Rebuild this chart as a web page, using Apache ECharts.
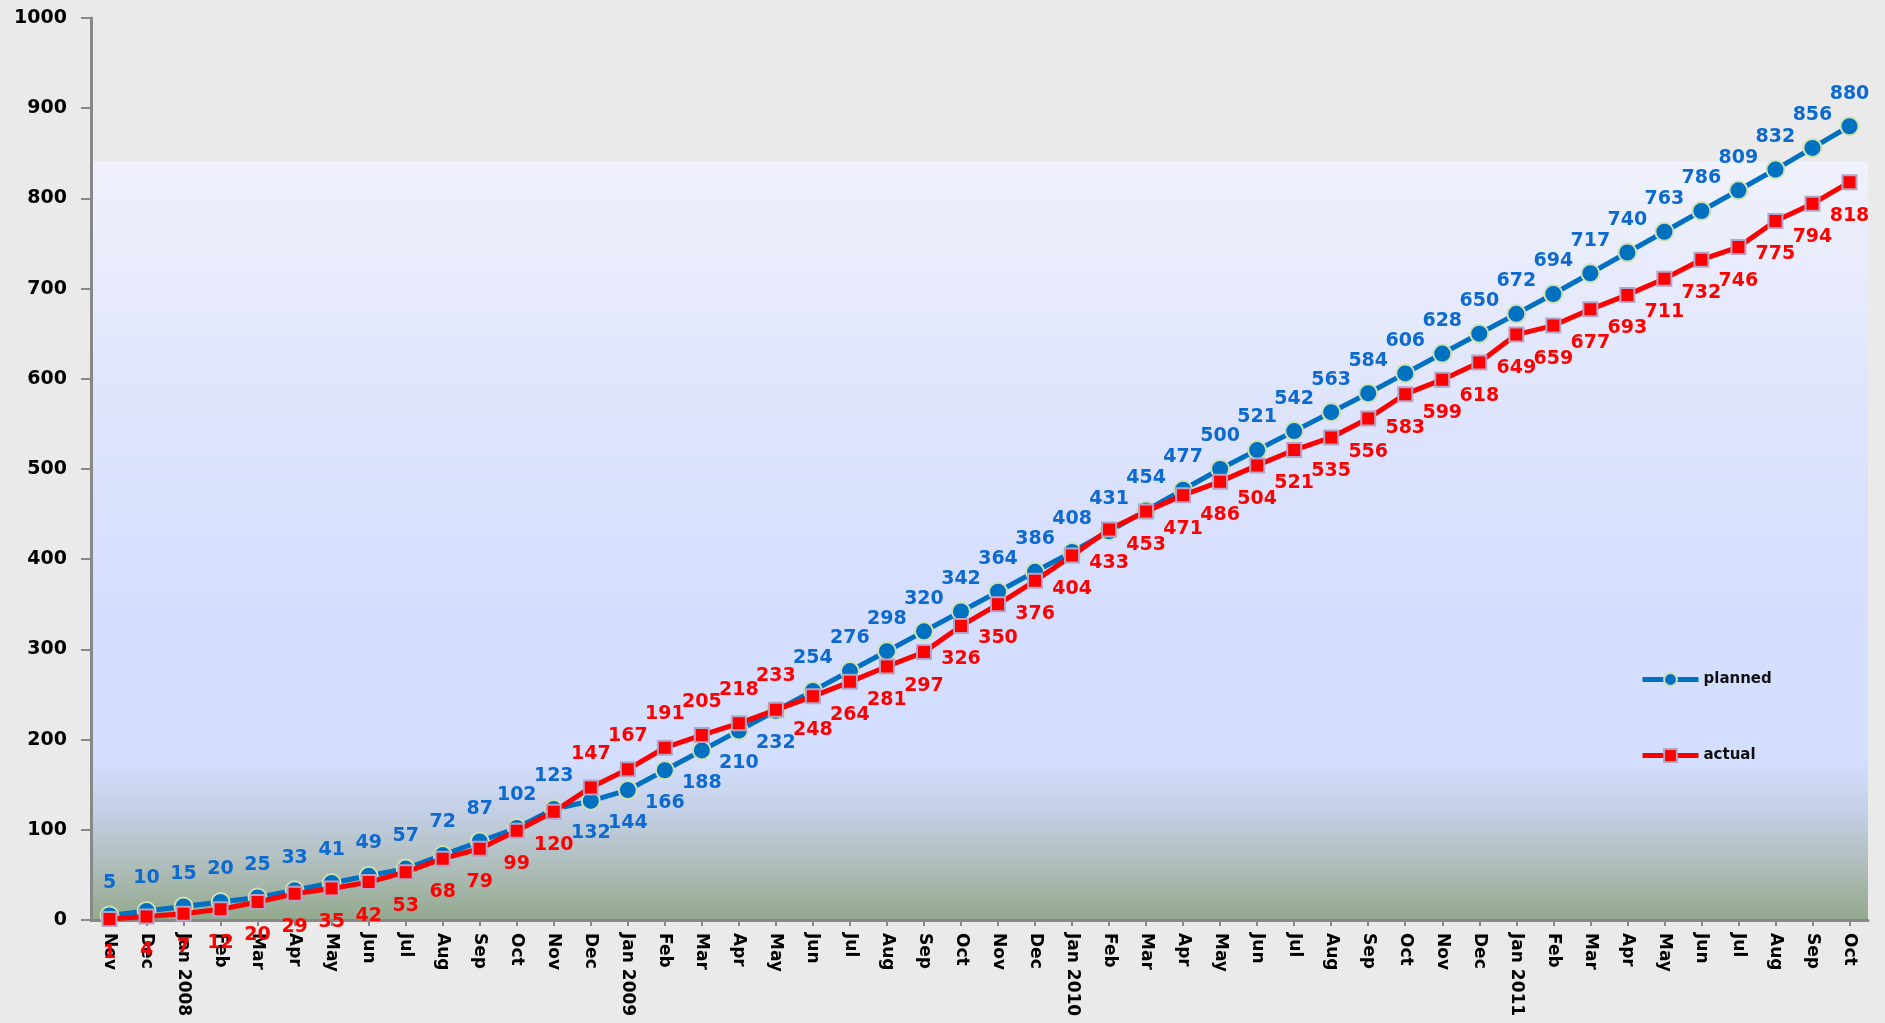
<!DOCTYPE html>
<html>
<head>
<meta charset="utf-8">
<style>
  html, body { margin: 0; padding: 0; background: #eaeaea; }
  #chart { width: 1885px; height: 1023px; }
</style>
<script src="https://cdn.jsdelivr.net/npm/echarts@6/dist/echarts.min.js"></script>
</head>
<body>
<div id="chart"></div>
<script>
// Monthly cumulative totals, Nov 2007 – Oct 2011
const categories = [
  'Nov', 'Dec',
  'Jan 2008', 'Feb', 'Mar', 'Apr', 'May', 'Jun', 'Jul', 'Aug', 'Sep', 'Oct', 'Nov', 'Dec',
  'Jan 2009', 'Feb', 'Mar', 'Apr', 'May', 'Jun', 'Jul', 'Aug', 'Sep', 'Oct', 'Nov', 'Dec',
  'Jan 2010', 'Feb', 'Mar', 'Apr', 'May', 'Jun', 'Jul', 'Aug', 'Sep', 'Oct', 'Nov', 'Dec',
  'Jan 2011', 'Feb', 'Mar', 'Apr', 'May', 'Jun', 'Jul', 'Aug', 'Sep', 'Oct'
];

const planned = [
  5, 10, 15, 20, 25, 33, 41, 49, 57, 72, 87, 102, 123, 132,
  144, 166, 188, 210, 232, 254, 276, 298, 320, 342, 364, 386,
  408, 431, 454, 477, 500, 521, 542, 563, 584, 606, 628, 650,
  672, 694, 717, 740, 763, 786, 809, 832, 856, 880
];

const actual = [
  1, 4, 7, 12, 20, 29, 35, 42, 53, 68, 79, 99, 120, 147,
  167, 191, 205, 218, 233, 248, 264, 281, 297, 326, 350, 376,
  404, 433, 453, 471, 486, 504, 521, 535, 556, 583, 599, 618,
  649, 659, 677, 693, 711, 732, 746, 775, 794, 818
];

const yTicks = { min: 0, max: 1000, interval: 100 };

// months where the actual curve runs above the plan: labels swap sides
const swapStart = 13, swapEnd = 18;

const BLUE = '#0070c0';
const BLUE_TEXT = '#0d6ad0';
const RED = '#ff0000';
const FONT = '"DejaVu Sans", sans-serif';

function withLabels(values, normalPos, swappedPos, dist) {
  return values.map((v, i) => {
    const swapped = i >= swapStart && i <= swapEnd;
    return { value: v, label: { position: swapped ? swappedPos : normalPos, distance: dist } };
  });
}

const chart = echarts.init(document.getElementById('chart'), null, { renderer: 'canvas' });

const gridLeft = 91, gridRight = 17, gridTop = 18, gridBottom = 103;

chart.setOption({
  backgroundColor: '#eaeaea',
  animation: false,
  grid: { left: gridLeft, right: gridRight, top: gridTop, bottom: gridBottom, containLabel: false },
  legend: {
    orient: 'vertical',
    left: 1640,
    top: 672,
    itemWidth: 56,
    itemHeight: 16,
    itemGap: 61,
    padding: 0,
    lineStyle: { width: 5 },
    textStyle: { fontFamily: FONT, fontWeight: 'bold', fontSize: 15, color: '#111' },
    data: ['planned', 'actual']
  },
  xAxis: {
    type: 'category',
    data: categories,
    boundaryGap: true,
    axisLine: { show: true, lineStyle: { color: '#888888', width: 3 } },
    axisTick: { show: true, alignWithLabel: true, length: 6, lineStyle: { color: '#888888', width: 2 } },
    axisLabel: {
      interval: 0,
      rotate: -90,
      margin: 13,
      fontFamily: FONT,
      fontWeight: 'bold',
      fontSize: 17,
      color: '#000'
    },
    splitLine: { show: false }
  },
  yAxis: {
    type: 'value',
    min: yTicks.min,
    max: yTicks.max,
    interval: yTicks.interval,
    axisLine: { show: true, lineStyle: { color: '#888888', width: 3 } },
    axisTick: { show: true, length: 10, lineStyle: { color: '#888888', width: 2 } },
    axisLabel: {
      margin: 24,
      fontFamily: FONT,
      fontWeight: 'bold',
      fontSize: 19,
      color: '#000',
      formatter: (v) => String(v)
    },
    splitLine: { show: false }
  },
  series: [
    {
      name: 'planned',
      type: 'line',
      data: withLabels(planned, 'top', 'bottom', 13),
      symbol: 'circle',
      symbolSize: 18,
      lineStyle: { color: BLUE, width: 5 },
      itemStyle: { color: BLUE, borderColor: '#cfe0b2', borderWidth: 2 },
      label: {
        show: true,
        fontFamily: FONT,
        fontWeight: 'bold',
        fontSize: 19,
        color: BLUE_TEXT
      },
      z: 3
    },
    {
      name: 'actual',
      type: 'line',
      data: withLabels(actual, 'bottom', 'top', 16),
      symbol: 'rect',
      symbolSize: 14,
      lineStyle: { color: RED, width: 5 },
      itemStyle: { color: RED, borderColor: '#b4a4c8', borderWidth: 2 },
      label: {
        show: true,
        fontFamily: FONT,
        fontWeight: 'bold',
        fontSize: 19,
        color: RED
      },
      z: 4
    }
  ]
});

// shaded plot panel: lavender fading into a grey-green band near the baseline
const panelTop = chart.convertToPixel({ yAxisIndex: 0 }, 841);
const panelBottom = chart.convertToPixel({ yAxisIndex: 0 }, 0);
const panelLeft = gridLeft;
const panelRight = 1885 - gridRight;

chart.setOption({
  graphic: {
    elements: [{
      type: 'rect',
      silent: true,
      z: -100,
      zlevel: 0,
      shape: { x: panelLeft, y: panelTop, width: panelRight - panelLeft, height: panelBottom - panelTop },
      style: {
        fill: new echarts.graphic.LinearGradient(0, 0, 0, 1, [
          { offset: 0, color: '#eff1fb' },
          { offset: 0.35, color: '#dde3fc' },
          { offset: 0.6, color: '#d5defe' },
          { offset: 0.79, color: '#d4defe' },
          { offset: 0.86, color: '#c3cfe4' },
          { offset: 0.93, color: '#aebdba' },
          { offset: 1, color: '#93a98d' }
        ])
      }
    }]
  }
});
</script>
</body>
</html>
